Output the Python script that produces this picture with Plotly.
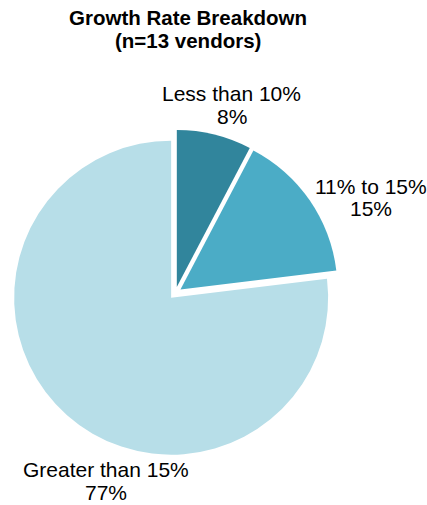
import plotly.graph_objects as go

# Vendor counts per growth-rate bucket (n = 13)
categories = ["Less than 10%", "11% to 15%", "Greater than 15%"]
vendor_counts = [1, 2, 10]
slice_colors = ["#31859C", "#4BACC6", "#B7DEE8"]

# Label placement: pixel x center and y of the first line on the 427x505 canvas
label_px = [(231.5, 94), (371, 186), (105.5, 469)]
line_gap = 23

W, H = 427, 505
total = sum(vendor_counts)
percents = [round(v / total * 100) for v in vendor_counts]

# Pie geometry: center and radius in pixels, domain derived from them
pull = 0.04
cx, cy, r = 175.3, 293.0, 157.0
half = r * (1 + pull)

fig = go.Figure(
    go.Pie(
        labels=categories,
        values=vendor_counts,
        marker=dict(colors=slice_colors, line=dict(width=0)),
        sort=False,
        direction="clockwise",
        rotation=0,
        pull=[pull] * len(vendor_counts),
        textinfo="none",
        hoverinfo="label+percent",
        showlegend=False,
        domain=dict(
            x=[(cx - half) / W, (cx + half) / W],
            y=[1 - (cy + half) / H, 1 - (cy - half) / H],
        ),
    )
)

fs = 21
annotations = [
    dict(text="<b>Growth Rate Breakdown</b>", x=187.5 / W, y=1 - 17 / H,
         font=dict(size=fs - 0.5, color="#000000")),
    dict(text="<b>(n=13 vendors)</b>", x=187.5 / W, y=1 - 41 / H,
         font=dict(size=fs - 0.5, color="#000000")),
]
for name, pct, (px, py) in zip(categories, percents, label_px):
    annotations.append(dict(text=name, x=px / W, y=1 - py / H,
                            font=dict(size=fs, color="#000000")))
    annotations.append(dict(text=f"{pct}%", x=px / W, y=1 - (py + line_gap) / H,
                            font=dict(size=fs, color="#000000")))
for a in annotations:
    a.update(xref="paper", yref="paper", xanchor="center", yanchor="middle",
             showarrow=False, align="center")

fig.update_layout(
    width=W, height=H,
    margin=dict(l=0, r=0, t=0, b=0),
    paper_bgcolor="white",
    plot_bgcolor="white",
    font=dict(family="Liberation Sans, Arial, sans-serif", color="#000000"),
    annotations=annotations,
)

fig.write_html("out.html")
